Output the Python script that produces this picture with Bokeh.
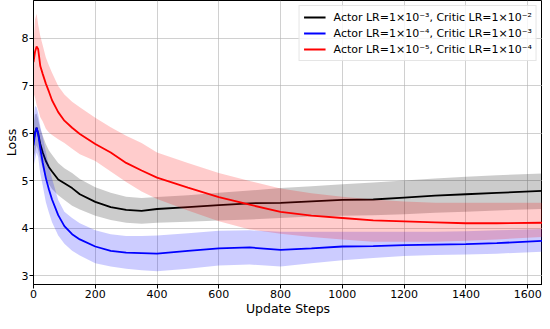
from bokeh.plotting import figure
from bokeh.models import Range1d, FixedTicker, Legend, LegendItem
from bokeh.embed import file_html
from bokeh.resources import INLINE

steps = [0, 5, 10, 15, 22, 30, 40, 50, 60, 80, 100, 125, 150, 200, 250, 300, 350, 400,
         500, 600, 700, 800, 900, 1000, 1100, 1200, 1300, 1400, 1500, 1648]

black_mean = [5.85, 6.02, 6.12, 6.0, 5.78, 5.6, 5.42, 5.29, 5.2, 5.03, 4.95, 4.85, 4.72, 4.56, 4.45,
              4.39, 4.37, 4.41, 4.45, 4.49, 4.53, 4.54, 4.57, 4.6, 4.61, 4.65, 4.69, 4.72, 4.75, 4.79]
black_upper = [6.2, 6.4, 6.42, 6.3, 6.1, 5.95, 5.78, 5.64, 5.55, 5.38, 5.27, 5.17, 5.04, 4.87, 4.75,
               4.67, 4.64, 4.66, 4.7, 4.75, 4.8, 4.85, 4.89, 4.93, 4.97, 5.01, 5.05, 5.09, 5.12, 5.16]
black_lower = [5.5, 5.6, 5.75, 5.65, 5.45, 5.25, 5.05, 4.93, 4.83, 4.7, 4.6, 4.48, 4.4, 4.27, 4.18,
               4.12, 4.1, 4.12, 4.14, 4.17, 4.19, 4.22, 4.25, 4.27, 4.28, 4.3, 4.33, 4.35, 4.38, 4.41]

blue_mean = [5.75, 6.0, 6.12, 6.0, 5.68, 5.38, 5.06, 4.82, 4.61, 4.28, 4.05, 3.88, 3.77, 3.62, 3.53,
             3.49, 3.48, 3.47, 3.53, 3.58, 3.6, 3.55, 3.58, 3.62, 3.63, 3.65, 3.66, 3.67, 3.69, 3.74]
blue_upper = [6.3, 6.58, 6.55, 6.42, 6.15, 5.92, 5.62, 5.3, 5.05, 4.6, 4.35, 4.22, 4.11, 3.96, 3.88,
              3.84, 3.84, 3.85, 3.9, 3.95, 3.96, 3.93, 3.93, 3.93, 3.93, 3.93, 3.93, 3.94, 3.96, 3.99]
blue_lower = [5.3, 5.45, 5.6, 5.5, 5.15, 4.9, 4.55, 4.33, 4.13, 3.85, 3.68, 3.53, 3.43, 3.27, 3.2,
              3.15, 3.12, 3.1, 3.15, 3.22, 3.24, 3.2, 3.27, 3.33, 3.38, 3.42, 3.44, 3.45, 3.47, 3.51]

red_mean = [7.5, 7.72, 7.83, 7.78, 7.42, 7.25, 7.05, 6.88, 6.7, 6.45, 6.27, 6.12, 5.99, 5.78, 5.6,
            5.38, 5.22, 5.07, 4.86, 4.66, 4.5, 4.35, 4.27, 4.22, 4.17, 4.15, 4.13, 4.11, 4.11, 4.12]
red_upper = [7.9, 8.4, 8.52, 8.3, 8.05, 7.85, 7.6, 7.43, 7.28, 7.0, 6.82, 6.67, 6.55, 6.33, 6.13,
             5.95, 5.8, 5.6, 5.38, 5.17, 5.0, 4.84, 4.74, 4.67, 4.61, 4.57, 4.54, 4.54, 4.54, 4.54]
red_lower = [6.85, 6.75, 6.6, 6.5, 6.34, 6.25, 6.1, 6.02, 5.97, 5.88, 5.8, 5.68, 5.56, 5.42, 5.2,
             4.98, 4.78, 4.62, 4.38, 4.15, 3.98, 3.89, 3.82, 3.77, 3.72, 3.72, 3.72, 3.74, 3.77, 3.82]

labels = ["Actor LR=1×10⁻³, Critic LR=1×10⁻²",
          "Actor LR=1×10⁻⁴, Critic LR=1×10⁻³",
          "Actor LR=1×10⁻⁵, Critic LR=1×10⁻⁴"]
x_ticks = [0, 200, 400, 600, 800, 1000, 1200, 1400, 1600]
y_ticks = [3, 4, 5, 6, 7, 8]

FONT = "DejaVu Sans"

p = figure(frame_width=509, frame_height=284, output_backend="svg", toolbar_location=None,
           x_range=Range1d(0, 1648), y_range=Range1d(2.82, 8.8),
           min_border_left=0, min_border_right=0, min_border_top=0, min_border_bottom=0)
p.background_fill_color = "white"
p.border_fill_color = "white"
p.outline_line_color = "black"
p.outline_line_width = 1

series = [
    ("black", black_mean, black_upper, black_lower),
    ("blue", blue_mean, blue_upper, blue_lower),
    ("red", red_mean, red_upper, red_lower),
]
items = []
for (col, m, up, lo), lab in zip(series, labels):
    p.varea(x=steps, y1=lo, y2=up, fill_color=col, fill_alpha=0.2)
    r = p.line(x=steps, y=m, line_color=col, line_width=1.8)
    items.append(LegendItem(label=lab, renderers=[r]))

p.xaxis.ticker = FixedTicker(ticks=x_ticks)
p.yaxis.ticker = FixedTicker(ticks=y_ticks)
for ax in (p.xaxis[0], p.yaxis[0]):
    ax.major_label_text_font = FONT
    ax.major_label_text_font_size = "11px"
    ax.major_label_text_color = "black"
    ax.axis_label_text_font = FONT
    ax.axis_label_text_font_size = "12.5px"
    ax.axis_label_text_font_style = "normal"
    ax.axis_label_text_color = "black"
    ax.major_tick_out = 4
    ax.major_tick_in = 0
    ax.minor_tick_out = 0
    ax.minor_tick_in = 0
    ax.axis_line_color = "black"
    ax.major_tick_line_color = "black"
    ax.major_label_standoff = 1
    ax.axis_label_standoff = 0
p.xaxis.axis_label = "Update Steps"
p.yaxis.axis_label = "Loss"

p.grid.grid_line_color = "#b0b0b0"
p.grid.grid_line_alpha = 0.6
p.grid.grid_line_width = 1

legend = Legend(items=items, location="top_right")
legend.label_text_font = FONT
legend.label_text_font_size = "11px"
legend.label_text_color = "black"
legend.glyph_width = 22
legend.glyph_height = 14
legend.label_height = 14
legend.label_standoff = 8
legend.spacing = 2
legend.padding = 4
legend.margin = 5
legend.border_line_color = "#cccccc"
legend.border_line_width = 1
legend.background_fill_alpha = 0.8
p.add_layout(legend)

open("out.html", "w").write(file_html(p, INLINE))
